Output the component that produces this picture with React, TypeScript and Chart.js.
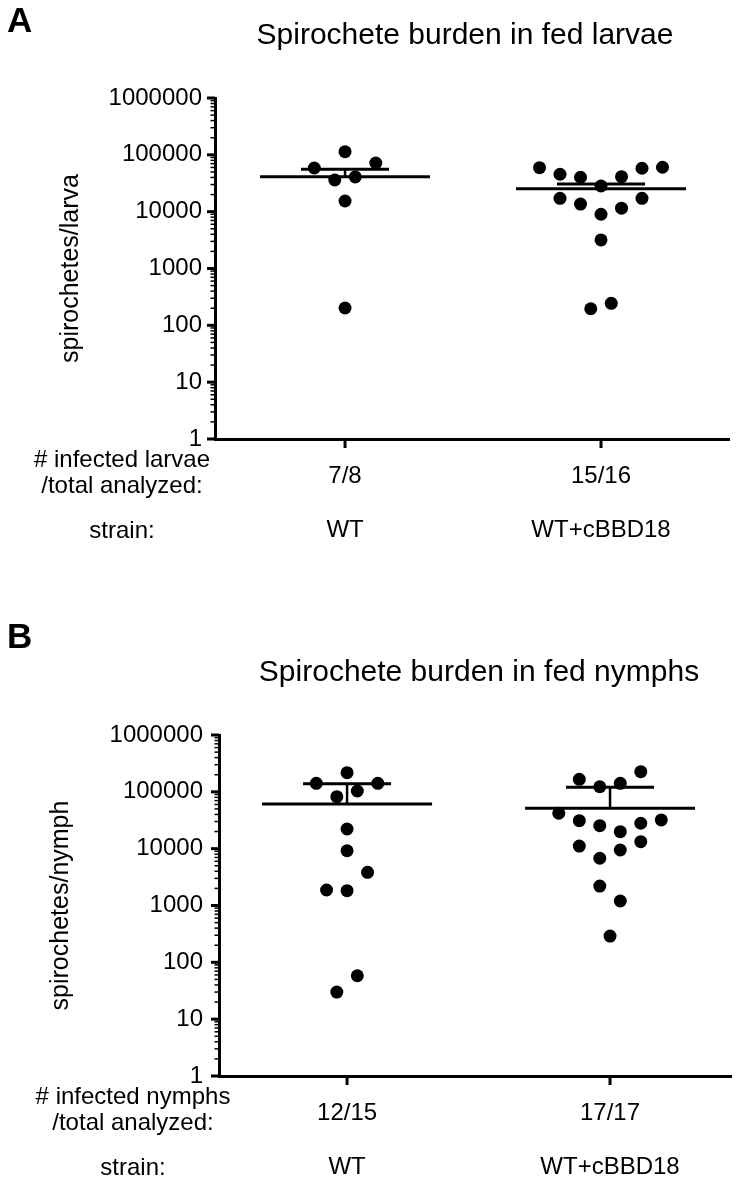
import React, { useEffect, useRef } from "react";
import { Chart, registerables } from "chart.js";

Chart.register(...registerables);

// ---------------- data ----------------
const strains = ["WT", "WT+cBBD18"];
const infectedLarvae = ["7/8", "15/16"];
const infectedNymphs = ["12/15", "17/17"];
const yTickValues = [1, 10, 100, 1000, 10000, 100000, 1000000];

// Panel A – larvae
const larvaeWT = [113500, 58700, 71900, 36100, 40800, 15400, 202];
const larvaeWTSlot = [0, -1.5, 1.5, -0.5, 0.5, 0, 0];
const larvaeCBBD = [59400, 45500, 40300, 28300, 41300, 58000, 60400, 17200, 13600, 9000, 11500, 17200, 3180, 196, 244];
const larvaeCBBDSlot = [-3, -2, -1, 0, 1, 2, 3, -2, -1, 0, 1, 2, 0, -0.5, 0.5];
const larvaeMean = [41300, 25400];
const larvaeSemUpper = [55600, 30700];

// Panel B – nymphs
const nymphWT = [217000, 141000, 141000, 82200, 103500, 22200, 9200, 3840, 1875, 1820, 58, 30];
const nymphWTSlot = [0, -1.5, 1.5, -0.5, 0.5, 0, 0, 1, -1, 0, 0.5, -0.5];
const nymphCBBD = [166000, 123000, 141000, 226000, 42000, 31100, 25400, 19900, 28000, 32000, 11100, 6780, 9480, 13300, 2200, 1200, 290];
const nymphCBBDSlot = [-1.5, -0.5, 0.5, 1.5, -2.5, -1.5, -0.5, 0.5, 1.5, 2.5, -1.5, -0.5, 0.5, 1.5, -0.5, 0.5, 0];
const nymphMean = [61100, 51400];
const nymphSemUpper = [139000, 120300];

// ---------------- styling / layout ----------------
const FONT = "'Liberation Sans', Arial, Helvetica, sans-serif";
const W = 742;
const H = 590;
const DOT_SPACING_PX = 20.5;
const MEAN_HALF_PX = 85;
const SEM_HALF_PX = 44;

type Group = { values: number[]; slots: number[]; mean: number; upper: number };
type Panel = {
  letter: string;
  title: string;
  yTitle: string;
  rowLabel: string[];
  strainLabel: string;
  counts: string[];
  groups: Group[];
  top: number;
  area: { left: number; right: number; top: number; bottom: number };
  xRange: [number, number];
  titleX: number;
  titleY: number;
  letterY: number;
  rowX: number;
  yTitleCenter: number;
  tickGap: number;
};

const panelA: Panel = {
  letter: "A",
  title: "Spirochete burden in fed larvae",
  yTitle: "spirochetes/larva",
  rowLabel: ["# infected larvae", "/total analyzed:"],
  strainLabel: "strain:",
  counts: infectedLarvae,
  groups: [
    { values: larvaeWT, slots: larvaeWTSlot, mean: larvaeMean[0], upper: larvaeSemUpper[0] },
    { values: larvaeCBBD, slots: larvaeCBBDSlot, mean: larvaeMean[1], upper: larvaeSemUpper[1] },
  ],
  top: 0,
  area: { left: 215, right: 729, top: 98, bottom: 439 },
  xRange: [-0.508, 1.5],
  titleX: 465,
  titleY: 44,
  letterY: 32,
  rowX: 122,
  yTitleCenter: 71,
  tickGap: 13,
};

const panelB: Panel = {
  letter: "B",
  title: "Spirochete burden in fed nymphs",
  yTitle: "spirochetes/nymph",
  rowLabel: ["# infected nymphs", "/total analyzed:"],
  strainLabel: "strain:",
  counts: infectedNymphs,
  groups: [
    { values: nymphWT, slots: nymphWTSlot, mean: nymphMean[0], upper: nymphSemUpper[0] },
    { values: nymphCBBD, slots: nymphCBBDSlot, mean: nymphMean[1], upper: nymphSemUpper[1] },
  ],
  top: 590,
  area: { left: 219, right: 731, top: 735, bottom: 1076 },
  xRange: [-0.487, 1.46],
  titleX: 479,
  titleY: 681,
  letterY: 648,
  rowX: 133,
  yTitleCenter: 61,
  tickGap: 16,
};

function PanelChart({ p }: { p: Panel }) {
  const ref = useRef<HTMLCanvasElement>(null);

  useEffect(() => {
    if (!ref.current) return;
    const bottomLocal = p.area.bottom - p.top;
    const pxPerUnit = (p.area.right - p.area.left) / (p.xRange[1] - p.xRange[0]);
    const slotW = DOT_SPACING_PX / pxPerUnit;
    const meanHalf = MEAN_HALF_PX / pxPerUnit;
    const semHalf = SEM_HALF_PX / pxPerUnit;

    const seg = (x0: number, y0: number, x1: number, y1: number, w: number) => ({
      type: "scatter",
      data: [
        { x: x0, y: y0 },
        { x: x1, y: y1 },
      ],
      showLine: true,
      borderColor: "#000",
      borderWidth: w,
      borderCapStyle: "butt",
      pointRadius: 0,
      pointHoverRadius: 0,
      fill: false,
    });

    const datasets: any[] = [];
    p.groups.forEach((g, gi) => {
      datasets.push(seg(gi - meanHalf, g.mean, gi + meanHalf, g.mean, 3));
      datasets.push(seg(gi - semHalf, g.upper, gi + semHalf, g.upper, 3));
      datasets.push(seg(gi, g.mean, gi, g.upper, 2.5));
      datasets.push({
        type: "scatter",
        data: g.values.map((v, i) => ({ x: gi + g.slots[i] * slotW, y: v })),
        showLine: false,
        pointRadius: 6.5,
        pointHoverRadius: 6.5,
        pointStyle: "circle",
        backgroundColor: "#000",
        borderColor: "#000",
        borderWidth: 0,
      });
    });

    const deco = {
      id: "panelDeco",
      afterDraw(chart: any) {
        const { ctx, chartArea } = chart;
        const ys = chart.scales.y;
        const xs = chart.scales.x;
        ctx.save();
        ctx.strokeStyle = "#000";
        ctx.fillStyle = "#000";
        ctx.lineCap = "butt";
        ys.ticks.forEach((t: any) => {
          const py = ys.getPixelForValue(t.value);
          const major = yTickValues.includes(t.value);
          ctx.lineWidth = major ? 3 : 1.5;
          const len = major ? 8 : 4.5;
          ctx.beginPath();
          ctx.moveTo(chartArea.left - len, py);
          ctx.lineTo(chartArea.left, py);
          ctx.stroke();
        });
        xs.ticks.forEach((t: any) => {
          const px = xs.getPixelForValue(t.value);
          ctx.lineWidth = 3;
          ctx.beginPath();
          ctx.moveTo(px, chartArea.bottom);
          ctx.lineTo(px, chartArea.bottom + 9);
          ctx.stroke();
        });
        ctx.font = `bold 35px ${FONT}`;
        ctx.textAlign = "left";
        ctx.textBaseline = "alphabetic";
        ctx.fillText(p.letter, 7, p.letterY - p.top);
        ctx.font = `30px ${FONT}`;
        ctx.textAlign = "center";
        ctx.fillText(p.title, p.titleX, p.titleY - p.top);
        ctx.font = `24px ${FONT}`;
        ctx.textBaseline = "middle";
        ctx.fillText(p.rowLabel[0], p.rowX, chartArea.bottom + 21);
        ctx.fillText(p.rowLabel[1], p.rowX, chartArea.bottom + 47);
        ctx.fillText(p.strainLabel, p.rowX, chartArea.bottom + 92);
        ctx.restore();
      },
    };

    const chart = new Chart(ref.current, {
      type: "scatter",
      data: { datasets },
      options: {
        responsive: false,
        animation: false,
        events: [],
        layout: {
          padding: { top: p.area.top - p.top, right: W - p.area.right, left: 0, bottom: 0 },
        },
        plugins: {
          legend: { display: false },
          tooltip: { enabled: false },
          title: { display: false },
        },
        scales: {
          x: {
            type: "linear",
            min: p.xRange[0],
            max: p.xRange[1],
            grid: { display: false, drawTicks: true, tickLength: 8 },
            border: { display: true, color: "#000", width: 3 },
            afterBuildTicks: (s: any) => {
              s.ticks = p.counts.map((_, i) => ({ value: i }));
            },
            afterFit: (s: any) => {
              s.height = H - bottomLocal;
            },
            ticks: {
              autoSkip: false,
              maxRotation: 0,
              minRotation: 0,
              padding: 16,
              color: "#000",
              font: { family: FONT, size: 24, lineHeight: 1.125 },
              callback: (v: any) => {
                const i = Math.round(Number(v));
                return [p.counts[i], "", strains[i]];
              },
            },
          },
          y: {
            type: "logarithmic",
            min: 1,
            max: 1000000,
            grid: { display: false, drawTicks: true, tickLength: 8 },
            border: { display: true, color: "#000", width: 3 },
            afterBuildTicks: (s: any) => {
              const t: any[] = [];
              yTickValues.forEach((v, i) => {
                t.push({ value: v, major: true });
                if (i < yTickValues.length - 1) {
                  for (let m = 2; m <= 9; m++) t.push({ value: v * m, major: false });
                }
              });
              s.ticks = t;
            },
            afterFit: (s: any) => {
              s.width = p.area.left;
            },
            ticks: {
              autoSkip: false,
              padding: p.tickGap - 8,
              color: "#000",
              font: { family: FONT, size: 24 },
              callback: (v: any) => (yTickValues.includes(Number(v)) ? String(v) : ""),
            },
            title: {
              display: true,
              text: p.yTitle,
              color: "#000",
              font: { family: FONT, size: 25, lineHeight: 1.2 },
              padding: { top: p.yTitleCenter - 15, bottom: 0 },
            },
          },
        },
      },
      plugins: [deco],
    } as any);

    return () => chart.destroy();
  }, [p]);

  return (
    <canvas
      ref={ref}
      width={W}
      height={H}
      style={{ position: "absolute", left: 0, top: p.top, display: "block" }}
    />
  );
}

export default function App() {
  useEffect(() => {
    document.body.style.margin = "0";
  }, []);
  return (
    <div style={{ position: "relative", width: W, height: 1180, background: "#fff" }}>
      <PanelChart p={panelA} />
      <PanelChart p={panelB} />
    </div>
  );
}
